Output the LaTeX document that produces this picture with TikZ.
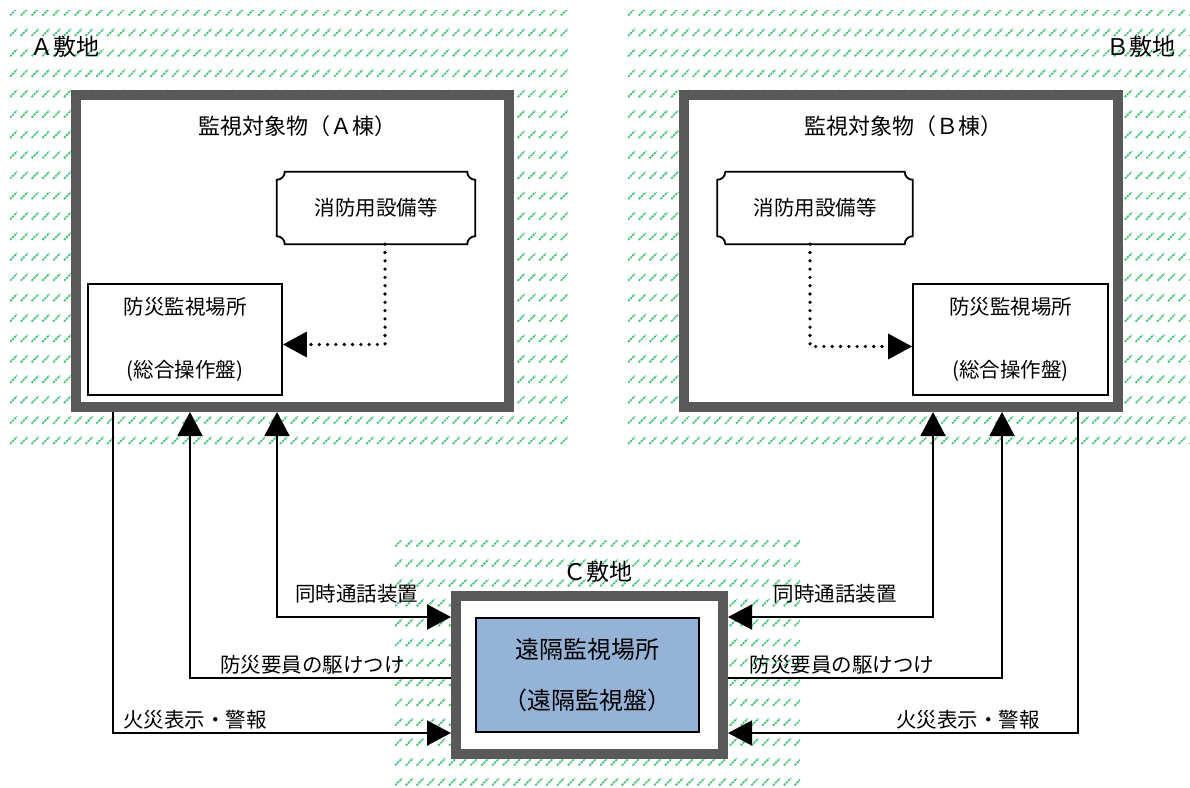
\documentclass[tikz,border=0pt]{standalone}
\usepackage{fontspec}
\setmainfont{Noto Sans CJK JP}
\usetikzlibrary{arrows.meta,positioning}
\definecolor{sitegreen}{RGB}{60,195,115}
\definecolor{wallgray}{RGB}{89,89,89}
\definecolor{panelblue}{RGB}{149,179,215}
\newcommand\plaqueframe[1]{%
  \draw[line width=1.8pt] ([xshift=8pt]#1.north west) -- ([xshift=-8pt]#1.north east)
    arc[start angle=180,end angle=90,radius=8] -- ([yshift=8pt]#1.south east)
    arc[start angle=270,end angle=180,radius=8] -- ([xshift=8pt]#1.south west)
    arc[start angle=360,end angle=270,radius=8] -- ([yshift=-8pt]#1.north west)
    arc[start angle=90,end angle=0,radius=8] -- cycle;}

\begin{document}
\begin{tikzpicture}[x=1pt,y=-1pt,
font=\fontsize{20.5}{25}\selectfont,
hatch/.style={draw=sitegreen,line width=1.7pt,dash pattern=on 2.2pt off 0.9pt},
wall/.style={draw=wallgray,line width=10pt,fill=white,inner sep=0pt},
box/.style={draw,line width=1.8pt,fill=white,align=center,inner sep=0pt},
lbl/.style={inner sep=0pt},
link/.style={line width=2pt},
thinlink/.style={line width=1.4pt},
dots/.style={line width=3.6pt,line cap=round,dash pattern=on 0pt off 8.3pt},
toarrow/.style={-{Triangle[length=24pt,width=25pt]}},
botharrow/.style={{Triangle[length=24pt,width=25pt]}-{Triangle[length=24pt,width=25pt]}}]
\useasboundingbox (0,0) rectangle (1190,787);

\begin{scope}
\clip (10,10) rectangle (568,455);
\foreach \r in {0,...,21} \foreach \c in {0,...,51}
  \draw[hatch] ({10+10.8*\c},{15.5+20.4*\r}) -- ++(7,-7);
\end{scope}
\begin{scope}
\clip (628,10) rectangle (1190,455);
\foreach \r in {0,...,21} \foreach \c in {0,...,52}
  \draw[hatch] ({628+10.8*\c},{15.5+20.4*\r}) -- ++(7,-7);
\end{scope}
\begin{scope}
\clip (395,540) rectangle (800,787);
\foreach \r in {0,...,12} \foreach \c in {0,...,37}
  \draw[hatch] ({395+10.8*\c},{546.5+19.9*\r}) -- ++(7,-7);
\end{scope}

\node (siteA) [font=\fontsize{23}{27}\selectfont] at (65,47) {Ａ敷地};
\node (siteB) [font=\fontsize{23}{27}\selectfont] at (1141,47) {Ｂ敷地};
\node (siteC) [font=\fontsize{23}{27}\selectfont] at (598,572) {Ｃ敷地};

\node (bldA) [wall,minimum width=433pt,minimum height=312pt] at (292.5,251) {};
\node (bldB) [wall,minimum width=434pt,minimum height=312pt] at (901,251) {};
\node (titleA) [font=\fontsize{22}{26}\selectfont] at (297,126) {監視対象物（Ａ棟）};
\node (titleB) [font=\fontsize{22}{26}\selectfont] at (903,126) {監視対象物（Ｂ棟）};

\node (equipA) [minimum width=198pt,minimum height=72pt,inner sep=0pt] at (376,208) {消防用設備等};
\node (equipB) [minimum width=195pt,minimum height=72pt,inner sep=0pt] at (815,208) {消防用設備等};
\plaqueframe{equipA}
\plaqueframe{equipB}

\node (ctrlA) [box,minimum width=194pt,minimum height=111pt] at (185,339.5) {防災監視場所\\[38pt](総合操作盤)};
\node (ctrlB) [box,minimum width=195pt,minimum height=111pt] at (1010.5,339.5) {防災監視場所\\[38pt](総合操作盤)};

\draw[dots,toarrow] ([xshift=9pt]equipA.south) |- ([yshift=-5pt]ctrlA.east);
\draw[dots,toarrow] ([xshift=-5pt]equipB.south) |- ([yshift=-7pt]ctrlB.west);

\node (remote) [wall,minimum width=267pt,minimum height=158pt] at (589.5,675) {};
\node (panel) [box,fill=panelblue,minimum width=223pt,minimum height=114pt,
    font=\fontsize{24}{29}\selectfont] at (587.5,675) {遠隔監視場所\\[22pt]（遠隔監視盤）};

\draw[thinlink,toarrow] ([xshift=42pt]bldA.south west) |- node[lbl,pos=0.621,above=3pt] {火災表示・警報} ([yshift=-58pt]remote.west);
\draw[link,toarrow] ([yshift=-3pt]remote.west) -| node[lbl,pos=0.265,above=3pt] {防災要員の駆けつけ} ([xshift=119pt]bldA.south west);
\draw[link,botharrow] ([xshift=206pt]bldA.south west) |- node[lbl,pos=0.729,above=13pt] {同時通話装置} ([yshift=58pt]remote.west);

\draw[link,botharrow] ([yshift=58pt]remote.east) -| node[lbl,pos=0.261,above=13pt] {同時通話装置} ([xshift=254pt]bldB.south west);
\draw[link,toarrow] ([yshift=-3pt]remote.east) -| node[lbl,pos=0.208,above=3pt] {防災要員の駆けつけ} ([xshift=323pt]bldB.south west);
\draw[thinlink,toarrow] ([xshift=399pt]bldB.south west) |- node[lbl,pos=0.657,above=3pt] {火災表示・警報} ([yshift=-58pt]remote.east);
\end{tikzpicture}
\end{document}
